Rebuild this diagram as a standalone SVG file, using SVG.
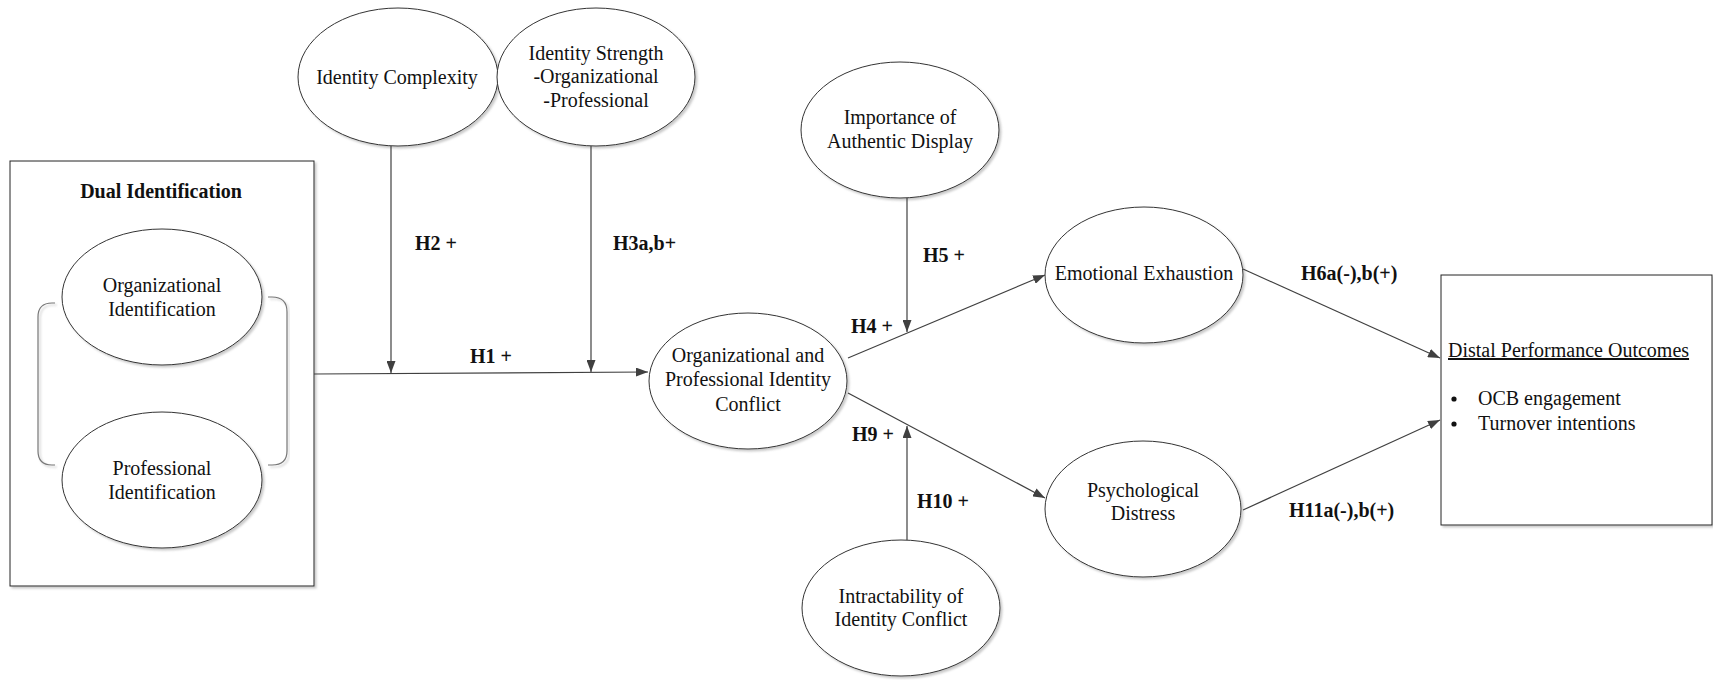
<svg xmlns="http://www.w3.org/2000/svg" width="1713" height="680" viewBox="0 0 1713 680">
  <defs>
    <filter id="shadow" x="-10%" y="-10%" width="125%" height="125%">
      <feDropShadow dx="2" dy="2" stdDeviation="1.2" flood-color="#888" flood-opacity="0.45"/>
    </filter>
    <marker id="arrow" viewBox="0 0 12 9" refX="12" refY="4.5" markerWidth="12" markerHeight="9" markerUnits="userSpaceOnUse" orient="auto">
      <path d="M0,0 L12,4.5 L0,9 z" fill="#404040"/>
    </marker>
    <style>
      .node { fill: #fff; stroke: #333; stroke-width: 1; filter: url(#shadow); }
      .box { fill: #fff; stroke: #222; stroke-width: 1; filter: url(#shadow); }
      .bracket { fill: none; stroke: #777; stroke-width: 1.2; filter: url(#shadow); }
      .txt { font-family: "Liberation Serif", "Times New Roman", serif; font-size: 20px; fill: #111; text-anchor: middle; }
      .lbl { font-family: "Liberation Serif", "Times New Roman", serif; font-size: 20px; font-weight: bold; fill: #111; }
      .plain { font-family: "Liberation Serif", "Times New Roman", serif; font-size: 20px; fill: #111; }
      .conn { fill: none; stroke: #404040; stroke-width: 1.2; marker-end: url(#arrow); }
    </style>
  </defs>

  <rect width="1713" height="680" fill="#fff"/>

  <!-- Dual identification container -->
  <g id="dual-identification">
    <rect class="box" x="10" y="161" width="304" height="425"/>
    <text class="lbl" x="161" y="198" text-anchor="middle">Dual Identification</text>
    <path class="bracket" d="M55,303 L52,303 Q38,303 38,317 L38,451 Q38,465 52,465 L55,465"/>
    <path class="bracket" d="M268,297 L272,297 Q287,297 287,312 L287,451 Q287,465 272,465 L268,465"/>
  </g>

  <g id="org-identification">
    <ellipse class="node" cx="162" cy="297" rx="100" ry="68"/>
    <text class="txt" x="162" y="292">Organizational</text>
    <text class="txt" x="162" y="316">Identification</text>
  </g>

  <g id="prof-identification">
    <ellipse class="node" cx="162" cy="480" rx="100" ry="68"/>
    <text class="txt" x="162" y="475">Professional</text>
    <text class="txt" x="162" y="499">Identification</text>
  </g>

  <g id="identity-complexity">
    <ellipse class="node" cx="398" cy="77" rx="100" ry="69"/>
    <text class="txt" x="397" y="84">Identity Complexity</text>
  </g>

  <g id="identity-strength">
    <ellipse class="node" cx="596" cy="77" rx="99" ry="69"/>
    <text class="txt" x="596" y="60">Identity Strength</text>
    <text class="txt" x="596" y="83">-Organizational</text>
    <text class="txt" x="596" y="107">-Professional</text>
  </g>

  <g id="identity-conflict">
    <ellipse class="node" cx="748" cy="381" rx="99" ry="68"/>
    <text class="txt" x="748" y="362">Organizational and</text>
    <text class="txt" x="748" y="386">Professional Identity</text>
    <text class="txt" x="748" y="411">Conflict</text>
  </g>

  <g id="authentic-display">
    <ellipse class="node" cx="900" cy="130" rx="99" ry="68"/>
    <text class="txt" x="900" y="124">Importance of</text>
    <text class="txt" x="900" y="148">Authentic Display</text>
  </g>

  <g id="intractability">
    <ellipse class="node" cx="901" cy="608" rx="99" ry="68"/>
    <text class="txt" x="901" y="603">Intractability of</text>
    <text class="txt" x="901" y="626">Identity Conflict</text>
  </g>

  <g id="emotional-exhaustion">
    <ellipse class="node" cx="1144" cy="275" rx="99" ry="68"/>
    <text class="txt" x="1144" y="280">Emotional Exhaustion</text>
  </g>

  <g id="psychological-distress">
    <ellipse class="node" cx="1143" cy="509" rx="98" ry="68"/>
    <text class="txt" x="1143" y="497">Psychological</text>
    <text class="txt" x="1143" y="520">Distress</text>
  </g>

  <g id="distal-outcomes">
    <rect class="box" x="1441" y="275" width="271" height="250"/>
    <text class="plain" x="1448" y="357" text-decoration="underline">Distal Performance Outcomes</text>
    <circle cx="1454" cy="399" r="2.6" fill="#111"/>
    <text class="plain" x="1478" y="405">OCB engagement</text>
    <circle cx="1454" cy="424" r="2.6" fill="#111"/>
    <text class="plain" x="1478" y="430">Turnover intentions</text>
  </g>

  <!-- Paths between constructs -->
  <g id="connectors">
    <line class="conn" x1="314" y1="374" x2="648" y2="372"/>
    <line class="conn" x1="391" y1="146" x2="391" y2="373"/>
    <line class="conn" x1="591" y1="146" x2="591" y2="372"/>
    <line class="conn" x1="848" y1="358" x2="1045" y2="275"/>
    <line class="conn" x1="848" y1="393" x2="1045" y2="498"/>
    <line class="conn" x1="907" y1="198" x2="907" y2="332"/>
    <line class="conn" x1="907" y1="540" x2="907" y2="426"/>
    <line class="conn" x1="1243" y1="269" x2="1440" y2="358"/>
    <line class="conn" x1="1243" y1="510" x2="1440" y2="420"/>
  </g>

  <!-- Hypothesis labels -->
  <g id="labels">
    <text class="lbl" x="415" y="250">H2 +</text>
    <text class="lbl" x="613" y="250">H3a,b+</text>
    <text class="lbl" x="470" y="363">H1 +</text>
    <text class="lbl" x="923" y="262">H5 +</text>
    <text class="lbl" x="851" y="333">H4 +</text>
    <text class="lbl" x="852" y="441">H9 +</text>
    <text class="lbl" x="917" y="508">H10 +</text>
    <text class="lbl" x="1301" y="280">H6a(-),b(+)</text>
    <text class="lbl" x="1289" y="517">H11a(-),b(+)</text>
  </g>
</svg>
